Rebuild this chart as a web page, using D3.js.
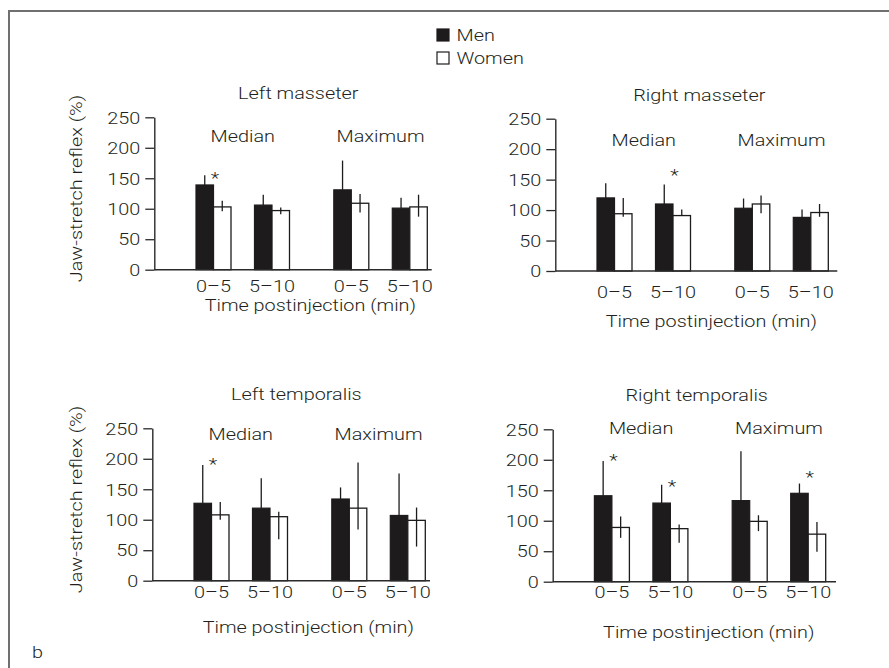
<!DOCTYPE html>
<html><head><meta charset="utf-8">
<script src="https://cdn.jsdelivr.net/npm/d3@7"></script>
<style>body{margin:0;background:#fff}svg{display:block}</style>
</head><body><svg id="c" width="889" height="668"></svg>
<script>
// ---------------- data ----------------
const panelTitles = ["Left masseter", "Right masseter", "Left temporalis", "Right temporalis"];
const stats = ["Median", "Maximum"];
const times = ["0\u20135", "5\u201310"];
const sexes = ["Men", "Women"];
const yTicks = [0, 50, 100, 150, 200, 250];
const yLabel = "Jaw-stretch reflex (%)";
const xLabel = "Time postinjection (min)";
// order of the four bar pairs: Median 0–5, Median 5–10, Maximum 0–5, Maximum 5–10
const menValues   = [[139, 106, 131, 101], [120, 110, 103, 88], [127, 119, 134, 107], [141, 129, 133, 145]];
const menUpper    = [[155, 123, 179, 118], [144, 142, 119, 101], [190, 168, 153, 176], [198, 159, 214, 161]];
const womenValues = [[103, 97, 109, 103], [94, 91, 110, 96], [108, 105, 119, 99], [89, 87, 99, 78]];
const womenUpper  = [[113, 102, 124, 123], [120, 101, 124, 110], [129, 113, 194, 120], [107, 94, 109, 98]];
const womenLower  = [[96, 91, 94, 87], [89, 91, 95, 89], [100, 68, 84, 56], [72, 64, 83, 49]];
// significance markers: [panel, stat, time, level]
const asterisks = [
  [0, "Median", "0\u20135", 155],
  [1, "Median", "5\u201310", 163],
  [2, "Median", "0\u20135", 197],
  [3, "Median", "0\u20135", 204],
  [3, "Median", "5\u201310", 162],
  [3, "Maximum", "5\u201310", 177]
];

// ---------------- layout ----------------
const layout = [
  {x0: 154.3, y0: 269.7, yTop: 117.3, len: 277.4, titleY: 99,  subY: 142.3, tickY: 292,   xTitleY: 311,   yLab: true},
  {x0: 555.3, y0: 271,   yTop: 118.7, len: 282,   titleY: 101, subY: 146,   tickY: 298.3, xTitleY: 326.5, yLab: false},
  {x0: 152.3, y0: 580.7, yTop: 428.3, len: 277.7, titleY: 400, subY: 440,   tickY: 597.7, xTitleY: 633.3, yLab: true},
  {x0: 552.7, y0: 581.7, yTop: 429.3, len: 283.3, titleY: 401, subY: 434.3, tickY: 597.7, xTitleY: 638.3, yLab: false}
];
const SX = 1.24, FS = 16, TXT = "#231f20", FONT = "Roboto, 'Liberation Sans', Arial, sans-serif", FW = 300;

const svg = d3.select("#c").style("font-family", FONT).style("font-weight", FW);

function txt(parent, x, y, s, anchor, rot) {
  const g = parent.append("g")
    .attr("transform", `translate(${x},${y})` + (rot ? ` rotate(${rot})` : "") + ` scale(${SX},1)`);
  g.append("text").attr("text-anchor", anchor || "middle")
    .attr("font-size", FS).attr("font-weight", FW).attr("fill", TXT).text(s);
  return g;
}

// frame
svg.append("rect").attr("x", 9).attr("y", 11).attr("width", 900).attr("height", 700)
  .attr("fill", "none").attr("stroke", "#707070").attr("stroke-width", 2);

// legend
const leg = svg.append("g");
sexes.forEach((s, i) => {
  leg.append("rect").attr("x", 437).attr("y", 29 + i * 23).attr("width", 12).attr("height", 12)
    .attr("fill", i === 0 ? "#1e1b1c" : "#fff").attr("stroke", "#1e1b1c").attr("stroke-width", 1.2);
  txt(leg, 456.5, 40.7 + i * 23.6, s, "start");
});

txt(svg, 32, 658, "b", "start");

layout.forEach((L, p) => {
  const g = svg.append("g");
  const y = d3.scaleLinear().domain([0, 250]).range([L.y0, L.yTop]);
  const xg = d3.scaleBand().domain(stats).range([L.x0 + 41.7, L.x0 + 273]).paddingInner(0.3215);
  const xt = d3.scaleBand().domain(times).range([0, xg.bandwidth()]).paddingInner(0.4017);
  const xs = d3.scaleBand().domain(sexes).range([0, xt.bandwidth()]);
  const pairX = (st, t) => xg(st) + xt(t);

  // y axis
  const ya = g.append("g").attr("transform", `translate(${L.x0},0)`)
    .call(d3.axisLeft(y).tickValues(yTicks).tickSize(9).tickSizeOuter(0));
  ya.select(".domain").attr("stroke", "#2a2a2a").attr("stroke-width", 1.4);
  ya.selectAll(".tick line").attr("stroke", "#2a2a2a").attr("stroke-width", 1.3);
  ya.selectAll(".tick text").attr("x", null)
    .attr("transform", `translate(-14,0) scale(${SX},1)`)
    .attr("font-size", FS).attr("font-weight", FW).attr("fill", TXT).attr("font-family", FONT).attr("dy", "0.36em");

  // bars
  const idx = [];
  stats.forEach(st => times.forEach(t => idx.push([st, t])));
  idx.forEach(([st, t], k) => {
    const px = pairX(st, t);
    const mv = menValues[p][k], wv = womenValues[p][k];
    const mx = px + xs("Men"), wx = px + xs("Women"), bw = xs.bandwidth();
    g.append("line").attr("x1", mx + bw / 2).attr("x2", mx + bw / 2)
      .attr("y1", y(mv)).attr("y2", y(menUpper[p][k])).attr("stroke", "#1e1b1c").attr("stroke-width", 1.3);
    g.append("rect").attr("x", mx).attr("y", y(mv)).attr("width", bw).attr("height", y(0) - y(mv))
      .attr("fill", "#1e1b1c").attr("stroke", "#1e1b1c").attr("stroke-width", 1.2);
    g.append("rect").attr("x", wx).attr("y", y(wv)).attr("width", bw).attr("height", y(0) - y(wv))
      .attr("fill", "#fff").attr("stroke", "#1e1b1c").attr("stroke-width", 1.3);
    g.append("line").attr("x1", wx + bw / 2).attr("x2", wx + bw / 2)
      .attr("y1", y(womenLower[p][k])).attr("y2", y(womenUpper[p][k])).attr("stroke", "#1e1b1c").attr("stroke-width", 1.3);
    txt(g, px + xt.bandwidth() / 2, L.tickY, t);
  });

  // baseline
  g.append("line").attr("x1", L.x0).attr("x2", L.x0 + L.len).attr("y1", y(0)).attr("y2", y(0))
    .attr("stroke", "#2a2a2a").attr("stroke-width", 1.4);

  // labels
  txt(g, L.x0 + 144, L.titleY, panelTitles[p]);
  stats.forEach(st => txt(g, xg(st) + xg.bandwidth() / 2, L.subY, st));
  txt(g, L.x0 + 156, L.xTitleY, xLabel);
  if (L.yLab) txt(g, 82, (L.y0 + L.yTop) / 2 - 5, yLabel, "middle", -90);

  // asterisks
  asterisks.filter(a => a[0] === p).forEach(a => {
    const px = pairX(a[1], a[2]);
    txt(g, px + xs("Women") + 1.5, y(a[3]) + 9, "*");
  });
});
</script>
</body></html>
